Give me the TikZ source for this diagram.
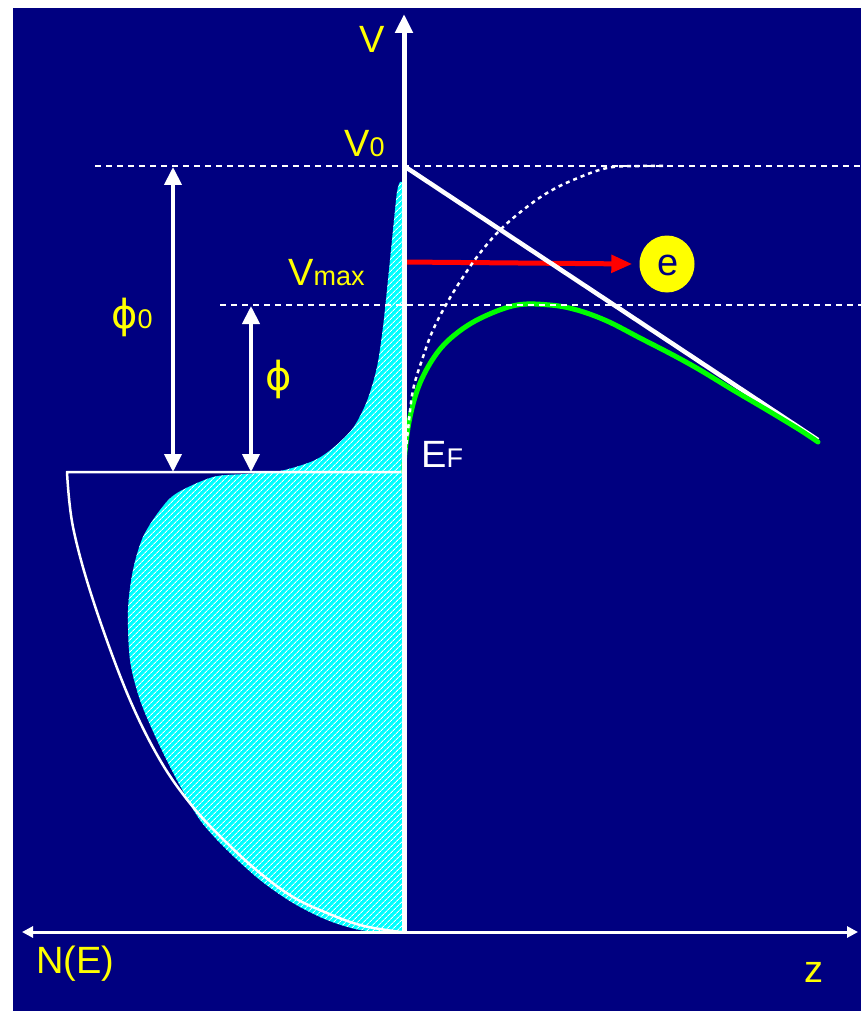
\documentclass[tikz,border=0pt]{standalone}
\usepackage{fontspec}
\setmainfont{Liberation Sans}
\newfontfamily\dejavu{DejaVu Sans}
\usetikzlibrary{arrows.meta,patterns.meta,shapes.geometric}
\definecolor{bgnavy}{RGB}{0,0,128}
\definecolor{lblyellow}{RGB}{255,255,0}
\definecolor{fillcyan}{RGB}{0,255,255}
\definecolor{curvegreen}{RGB}{0,255,0}
\definecolor{arrowred}{RGB}{255,0,0}
\newcommand\bigsz{\fontsize{38}{40}\selectfont}
\newcommand\subsz{\fontsize{27}{29}\selectfont}
\begin{document}
\begin{tikzpicture}[x=1pt,y=-1pt,
  lbl/.style={text=lblyellow,inner sep=0pt,anchor=base west},
  dashedline/.style={white,line width=2.5pt,dash pattern=on 6pt off 5pt},
  dottedcurve/.style={white,line width=2.5pt,dash pattern=on 4pt off 4pt},
  dimarrow/.style={white,line width=4pt,{Triangle[length=18pt,width=17pt]}-{Triangle[length=18pt,width=17pt]}},
  whiteline/.style={white,line width=2.5pt,line join=round}]
\useasboundingbox (0,0) rectangle (861,1011);
\fill[white] (0,0) rectangle (861,1011);
\fill[bgnavy] (13,8) rectangle (861,1011);

% occupied states (cyan, hatched)
\path[preaction={fill=fillcyan},pattern={Lines[angle=45,distance=4pt,line width=0.9pt]},pattern color=white]
  (402,182) -- (402,933) -- plot[smooth,tension=0.5] coordinates {(397,933) (360,930) (327,920) (293,903) (260,880) (227,850) (200,820) (177,780) (157,740) (140,700) (130,660) (128,610) (133,570) (143,537) (160,510) (177,493) (213,477) (245,474) (280,471) (313,461) (333,448) (353,428) (367,401) (377,367) (383,327) (388,280) (393,230) (397,192) (400,182)} -- cycle;

% density of states curve and Fermi level
\coordinate (fl) at (67,472);
\coordinate (ef) at (404,472);
\draw[whiteline] (ef) -- (fl) -- plot[smooth,tension=0.6] coordinates {(67,472) (73,527) (93,600) (127,693) (160,760) (193,807) (227,843) (260,873) (293,897) (327,913) (360,925) (393,931) (404,932)};

% red arrow to electron
\coordinate (ra) at (404,262);
\node[ellipse,fill=lblyellow,minimum width=55pt,minimum height=57pt,inner sep=0pt] (el) at (667,264) {};
\node[text=bgnavy,inner sep=0pt] (etxt) at (668,265) {\bigsz e};
\draw[arrowred,line width=5pt,-{Triangle[length=21pt,width=17pt]}] (ra) -- ([xshift=-7pt]el.west);

% applied field line
\coordinate (v0) at (404,166);
\coordinate (fe) at (818,440);
\draw[white,line width=4.5pt] (v0) -- (fe);

% green barrier
\draw[curvegreen,line width=5pt,line cap=round] plot[smooth,tension=0.6] coordinates {(404,472) (405,452) (410,417) (420,383) (437,353) (457,333) (483,317) (517,305) (550,305) (577,310) (607,321) (640,338) (673,355) (700,370) (733,390) (767,410) (800,430) (818,442)};

% dashed levels
\coordinate (d0a) at (95,166); \coordinate (d0b) at (861,166);
\coordinate (d1a) at (220,305); \coordinate (d1b) at (861,305);
\draw[dashedline] (d0a) -- (d0b);
\draw[dashedline] (d1a) -- (d1b);

% image potential (dotted)
\draw[dottedcurve] plot[smooth,tension=0.6] coordinates {(404,468) (408,430) (413,390) (423,357) (433,330) (447,303) (463,277) (480,253) (500,230) (523,210) (547,193) (573,180) (607,168) (640,166) (665,166)};

% work function arrows
\coordinate (p0t) at (173,167); \coordinate (p0b) at (173,472);
\coordinate (p1t) at (251,306); \coordinate (p1b) at (251,472);
\draw[dimarrow] (p0t) -- (p0b);
\draw[dimarrow] (p1t) -- (p1b);

% axes
\coordinate (vb) at (404,932); \coordinate (vt) at (404,14);
\coordinate (hl) at (22,932); \coordinate (hr) at (858,932);
\draw[white,line width=3pt,{Triangle[length=11pt,width=11pt]}-{Triangle[length=11pt,width=11pt]}] (hl) -- (hr);
\draw[white,line width=5pt,-{Triangle[length=19pt,width=17pt]}] (vb) -- (vt);

% labels
\node[lbl] (lV) at (359,53) {\bigsz V};
\node[lbl] (lV0) at (344,157) {\bigsz V\subsz 0};
\node[lbl] (lVmax) at (288,285) {\bigsz V\subsz max};
\node[lbl,text=white] (lEF) at (421,467) {\bigsz E\subsz F};
\node[lbl] (lphi0) at (111,328) {{\dejavu\fontsize{40}{42}\selectfont ϕ}\subsz 0};
\node[lbl] (lphi) at (265,390) {\dejavu\fontsize{40}{42}\selectfont ϕ};
\node[lbl] (lNE) at (36,973) {\bigsz N(E)};
\node[lbl] (lz) at (804,982) {\bigsz z};
\end{tikzpicture}
\end{document}
